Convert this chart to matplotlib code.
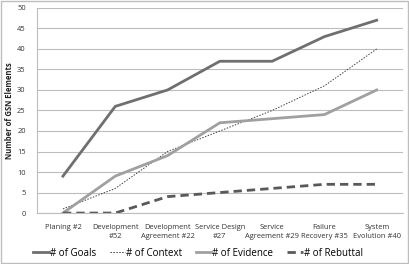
import matplotlib
matplotlib.use('Agg')
import matplotlib.pyplot as plt
from matplotlib.patches import Rectangle

categories = ['Planing #2', 'Development\n#52', 'Development\nAgreement #22', 'Service Design\n#27',
              'Service\nAgreement #29', 'Failure\nRecovery #35', 'System\nEvolution #40']
goals = [9, 26, 30, 37, 37, 43, 47]
context = [1, 6, 15, 20, 25, 31, 40]
evidence = [0, 9, 14, 22, 23, 24, 30]
rebuttal = [0, 0, 4, 5, 6, 7, 7]

plt.rcParams['font.family'] = ['Open Sans', 'DejaVu Sans']

fig = plt.figure(figsize=(4.09, 2.64), dpi=100)
ax = fig.add_axes([0.09, 0.193, 0.895, 0.777])
x = list(range(len(categories)))

ax.plot(x, goals, color='#6f6f6f', linewidth=2.0, label='# of Goals')
ax.plot(x, context, color='#404040', linewidth=0.7, linestyle=(0, (1.5, 1.5)), label='# of Context')
ax.plot(x, evidence, color='#a0a0a0', linewidth=2.0, label='# of Evidence')
ax.plot(x, rebuttal, color='#595959', linewidth=2.0, linestyle=(0, (3, 1.8)), label='# of Rebuttal')

ax.set_xlim(-0.5, 6.5)
ax.set_ylim(0, 50)
ax.set_yticks(range(0, 51, 5))
ax.set_xticks(x)
ax.set_xticklabels(categories, fontsize=5.4, color='#333333', linespacing=1.4)
ax.tick_params(axis='y', labelsize=5.4, colors='#333333', length=0, pad=8)
ax.tick_params(axis='x', length=0, pad=8)
ax.grid(axis='y', color='#bdbdbd', linewidth=0.8)
ax.set_axisbelow(True)
for s in ['top', 'right']:
    ax.spines[s].set_visible(False)
ax.spines['left'].set_color('#bdbdbd')
ax.spines['bottom'].set_color('#bdbdbd')
ax.set_ylabel('Number of GSN Elements', fontsize=5.5, fontweight='bold', color='#222222', labelpad=2)

ax.legend(loc='center', bbox_to_anchor=(0.44, -0.195), ncol=4, frameon=False,
          fontsize=7, handlelength=1.6, handletextpad=0.1, columnspacing=1.4)

fig.patches.append(Rectangle((0.002, 0.004), 0.995, 0.992, transform=fig.transFigure,
                             fill=False, edgecolor='#bdbdbd', linewidth=1))

fig.savefig('out.png', dpi=100, facecolor='white')
